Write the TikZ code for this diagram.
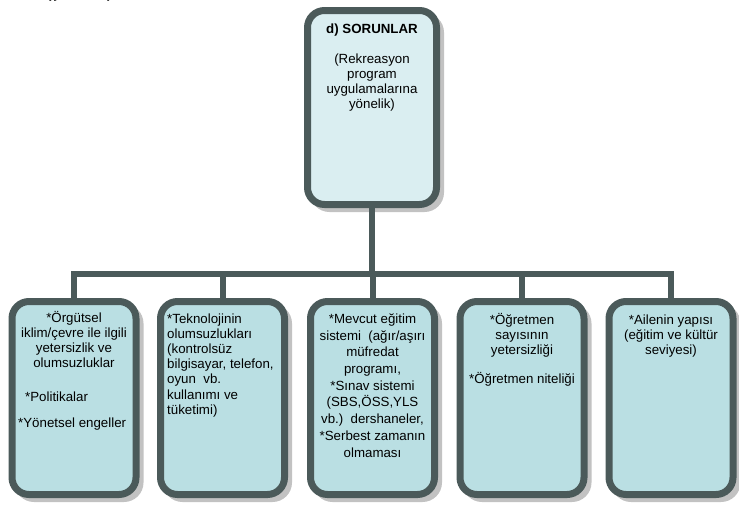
\documentclass[tikz,border=0pt]{standalone}
\usepackage{fontspec}
\setmainfont{Liberation Sans}
\usetikzlibrary{shadows}
\definecolor{bord}{HTML}{4B5A5A}
\definecolor{topfill}{HTML}{DAEEF1}
\definecolor{boxfill}{HTML}{BADFE3}
\definecolor{shad}{HTML}{C2C2C2}
\tikzset{
  card/.style={draw=bord, line width=7pt, rounded corners=17pt, inner sep=0pt,
    minimum width=124pt, minimum height=193pt,
    drop shadow={shadow xshift=5pt, shadow yshift=-5pt, fill=shad, draw=shad, line width=5pt, opacity=1}},
  conn/.style={draw=bord, line width=6pt},
  txt/.style={inner sep=0pt, font=\fontsize{13.3}{15.2}\selectfont, text=black},
}
\begin{document}
\begin{tikzpicture}[x=1pt, y=-1pt]
\useasboundingbox (0,0) rectangle (739,504);
% partly visible text at the top edge
\node[txt, anchor=base west, font=\fontsize{13.3}{15.2}\selectfont\bfseries] (cut) at (47,-2) {(ş\hspace{48pt})};
% boxes
\node[card, fill=topfill, minimum width=129pt, minimum height=194pt] (top) at (372,107.5) {};
\node[card, fill=boxfill] (b1) at (74,398) {};
\node[card, fill=boxfill] (b2) at (222.5,398) {};
\node[card, fill=boxfill] (b3) at (372.5,398) {};
\node[card, fill=boxfill] (b4) at (522,398) {};
\node[card, fill=boxfill] (b5) at (671,398) {};
% connectors
\coordinate (bar) at (0,274);
\draw[conn] (top.south) -- (top.south |- bar);
\draw[conn] ([xshift=-3pt]b1.north |- bar) -- ([xshift=3pt]b5.north |- bar);
\foreach \b in {b1,b2,b3,b4,b5}{\draw[conn] (\b.north |- bar) -- (\b.north);}
% texts (base anchor = baseline of the last line)
\node[txt, anchor=base, font=\fontsize{13.3}{15.2}\selectfont\bfseries] (tt) at (372,33) {d) SORUNLAR};
\node[txt, anchor=base, align=center] (ts) at (372,108.6) {(Rekreasyon\\program\\uygulamalarına\\yönelik)};
\node[txt, anchor=base, align=center] (t1a) at (74,367.6) {*Örgütsel\\iklim/çevre ile ilgili\\yetersizlik ve\\olumsuzluklar};
\node[txt, anchor=base west] (t1b) at (25,401) {*Politikalar};
\node[txt, anchor=base west] (t1c) at (18,427) {*Yönetsel engeller};
\node[txt, anchor=base west, align=left] (t2) at (167,414.2) {*Teknolojinin\\olumsuzlukları\\(kontrolsüz\\bilgisayar, telefon,\\oyun\ \ vb.\\kullanımı ve\\tüketimi)};
\node[txt, anchor=base, align=center, font=\fontsize{13.3}{16.7}\selectfont] (t3) at (372.5,457) {*Mevcut eğitim\\sistemi\ \ (ağır/aşırı\\müfredat\\programı,\\*Sınav sistemi\\(SBS,ÖSS,YLS\\vb.)\ \ dershaneler,\\*Serbest zamanın\\olmaması};
\node[txt, anchor=base, align=center] (t4a) at (522,354.4) {*Öğretmen\\sayısının\\yetersizliği};
\node[txt, anchor=base] (t4b) at (522,383) {*Öğretmen niteliği};
\node[txt, anchor=base, align=center] (t5) at (671,354.4) {*Ailenin yapısı\\(eğitim ve kültür\\seviyesi)};
\end{tikzpicture}
\end{document}
